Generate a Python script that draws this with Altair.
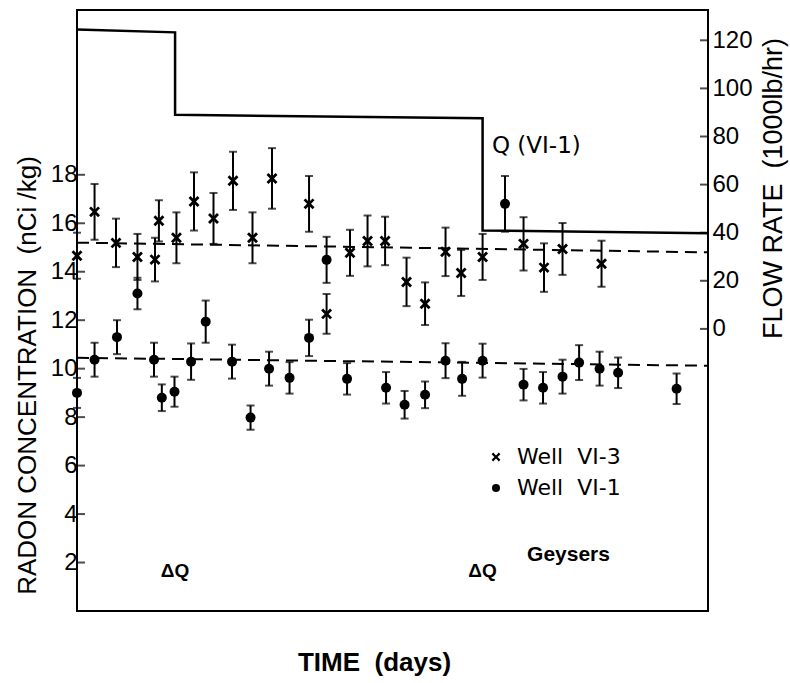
import altair as alt
import pandas as pd

# Well VI-3 radon samples: time (days), concentration (nCi/kg), one-sigma error
vi3_day = [0.0, 0.9, 2.0, 3.1, 4.0, 4.2, 5.1, 6.0, 7.0, 8.0, 9.0, 10.0, 11.9,
           12.8, 14.0, 14.9, 15.8, 16.9, 17.85, 18.9, 19.7, 20.8, 22.9, 23.95,
           24.9, 26.9]
vi3_rn = [14.66, 16.47, 15.19, 14.61, 14.5, 16.1, 15.4, 16.9, 16.2, 17.75,
          15.4, 17.85, 16.8, 12.26, 14.78, 15.27, 15.27, 13.58, 12.68, 14.82,
          13.95, 14.61, 15.15, 14.17, 14.94, 14.33]
vi3_err = [0.95, 1.15, 1.0, 0.95, 0.9, 0.85, 1.05, 1.2, 1.05, 1.2, 1.05, 1.25,
           1.15, 0.82, 0.95, 1.05, 1.0, 1.0, 0.88, 1.0, 0.95, 0.95, 1.1, 1.0,
           1.07, 0.95]

# Well VI-1 radon samples
vi1_day = [0.0, 0.9, 2.05, 3.1, 3.95, 4.35, 5.0, 5.85, 6.6, 7.95, 8.9, 9.85,
           10.9, 11.9, 12.8, 13.85, 15.85, 16.8, 17.85, 18.9, 19.75, 20.8,
           21.95, 22.9, 23.9, 24.9, 25.75, 26.8, 27.75, 30.75]
vi1_rn = [9.0, 10.37, 11.3, 13.1, 10.37, 8.8, 9.05, 10.29, 11.94, 10.29, 7.98,
          10.0, 9.62, 11.27, 14.49, 9.58, 9.21, 8.51, 8.92, 10.33, 9.58, 10.33,
          16.8, 9.34, 9.21, 9.67, 10.25, 10.0, 9.83, 9.17]
vi1_err = [0.62, 0.7, 0.7, 0.65, 0.7, 0.55, 0.62, 0.75, 0.87, 0.7, 0.5, 0.7,
           0.65, 0.75, 0.95, 0.65, 0.65, 0.57, 0.55, 0.72, 0.7, 0.7, 1.15, 0.65,
           0.65, 0.7, 0.72, 0.7, 0.63, 0.63]

# Mean radon level of each well over the record
mean_day = [0.0, 32.36]
vi3_mean = [15.2, 14.8]
vi1_mean = [10.45, 10.12]

# Flow rate of well VI-1 (1000 lb/hr), stepped down twice
flow_day = [0.0, 5.03, 5.03, 20.8, 20.8, 32.36]
flow_q = [124.5, 123.3, 89.0, 87.6, 40.9, 39.8]

left_ticks = [2, 4, 6, 8, 10, 12, 14, 16, 18]
right_ticks = [0, 20, 40, 60, 80, 100, 120]

# Annotations
dq_day = [5.03, 20.8]
dq_rn = [1.67, 1.67]

W, H = 631, 601
FONT = "Liberation Sans"
WIDE = "DejaVu Sans"
# Solid "x" outline so it can be filled like the dot symbol
XPATH = ("M0.7,-1.096L1.096,-0.7L0.396,0L1.096,0.7L0.7,1.096L0,0.396"
         "L-0.7,1.096L-1.096,0.7L-0.396,0L-1.096,-0.7L-0.7,-1.096L0,-0.396Z")

VI3 = "Well\u00a0 VI-3"
VI1 = "Well\u00a0 VI-1"

pts = pd.concat([
    pd.DataFrame({"day": vi3_day, "rn": vi3_rn, "err": vi3_err, "well": VI3}),
    pd.DataFrame({"day": vi1_day, "rn": vi1_rn, "err": vi1_err, "well": VI1}),
], ignore_index=True)
pts["lo"] = pts["rn"] - pts["err"]
pts["hi"] = pts["rn"] + pts["err"]

means = pd.concat([
    pd.DataFrame({"day": mean_day, "rn": vi3_mean, "well": "VI-3"}),
    pd.DataFrame({"day": mean_day, "rn": vi1_mean, "well": "VI-1"}),
], ignore_index=True)

flow = pd.DataFrame({"day": flow_day, "flow": flow_q, "seq": list(range(len(flow_day)))})

x_scale = alt.Scale(domain=[0, 32.36], nice=False, zero=False)
rn_scale = alt.Scale(domain=[0, 24.8], nice=False, zero=False)
q_scale = alt.Scale(domain=[-117.3, 132.6], nice=False, zero=False)

x_axis = alt.Axis(title="TIME\u00a0 (days)", labels=False, ticks=False, domain=False,
                  grid=False, titleFont=FONT, titleFontSize=26, titleFontWeight="bold",
                  titlePadding=38, titleX=297, titleAlign="center")
left_axis = alt.Axis(values=left_ticks, title="RADON CONCENTRATION\u00a0 (nCi /kg)",
                     ticks=False, domain=False, grid=False, labelFont=FONT,
                     labelFontSize=24, labelPadding=0, titleFont=FONT,
                     titleFontSize=26, titleFontWeight="normal", titlePadding=10,
                     titleY=365)
right_axis = alt.Axis(orient="right", values=right_ticks,
                      title="FLOW RATE\u00a0 (1000lb/hr)", ticks=False, domain=False,
                      grid=False, labelFont=FONT, labelFontSize=24, labelPadding=4,
                      titleFont=FONT, titleFontSize=27, titleFontWeight="normal",
                      titleAngle=270, titleBaseline="top", titlePadding=8, titleY=178)

X = alt.X("day:Q", scale=x_scale, axis=x_axis)

# Radon panel ---------------------------------------------------------------
bars = alt.Chart(pts).mark_rule(color="black", strokeWidth=2).encode(
    x=X, y=alt.Y("lo:Q", scale=rn_scale, axis=left_axis), y2="hi:Q")

caps = alt.Chart(pts).transform_fold(["lo", "hi"], as_=["end", "val"]).mark_tick(
    orient="horizontal", color="black", size=8, thickness=2).encode(
    x=X, y=alt.Y("val:Q", scale=rn_scale, axis=left_axis))

marks = alt.Chart(pts).mark_point(filled=True, color="black", strokeWidth=0,
                                  size=100, opacity=1).encode(
    x=X, y=alt.Y("rn:Q", scale=rn_scale, axis=left_axis),
    shape=alt.Shape("well:N",
                    scale=alt.Scale(domain=[VI3, VI1], range=[XPATH, "circle"]),
                    legend=alt.Legend(orient="none", legendX=408, legendY=436,
                                      title=None, padding=0, labelFont=WIDE,
                                      labelFontSize=22, labelColor="black",
                                      labelOffset=10, rowPadding=9,
                                      symbolSize=64, symbolStrokeWidth=0,
                                      symbolFillColor="black")))

mean_lines = alt.Chart(means).mark_line(color="black", strokeWidth=2,
                                        strokeDash=[12, 7]).encode(
    x=X, y=alt.Y("rn:Q", scale=rn_scale, axis=left_axis), detail="well:N")

left_tick_marks = alt.Chart(pd.DataFrame({"v": left_ticks})).mark_tick(
    orient="horizontal", color="black", size=8, thickness=2).encode(
    x=alt.value(4), y=alt.Y("v:Q", scale=rn_scale, axis=left_axis))

dq_text = alt.Chart(pd.DataFrame({"day": dq_day, "rn": dq_rn, "t": ["\u0394Q", "\u0394Q"]})
                    ).mark_text(font=FONT, fontSize=19, fontWeight="bold",
                                align="center", baseline="middle", color="black").encode(
    x=X, y=alt.Y("rn:Q", scale=rn_scale, axis=left_axis), text="t:N")

geysers = alt.Chart(pd.DataFrame({"day": [23.08], "rn": [2.3], "t": ["Geysers"]})
                    ).mark_text(font=FONT, fontSize=21, fontWeight="bold",
                                align="left", baseline="middle", color="black").encode(
    x=X, y=alt.Y("rn:Q", scale=rn_scale, axis=left_axis), text="t:N")

radon = alt.layer(mean_lines, bars, caps, marks, left_tick_marks, dq_text, geysers)

# Flow panel ----------------------------------------------------------------
step = alt.Chart(flow).mark_line(color="black", strokeWidth=2.5, strokeJoin="miter").encode(
    x=X, y=alt.Y("flow:Q", scale=q_scale, axis=right_axis), order="seq:Q")

right_tick_marks = alt.Chart(pd.DataFrame({"v": right_ticks})).mark_tick(
    orient="horizontal", color="black", size=8, thickness=2).encode(
    x=alt.value(W - 4), y=alt.Y("v:Q", scale=q_scale, axis=right_axis))

q_label = alt.Chart(pd.DataFrame({"day": [21.28], "flow": [76.0], "t": ["Q (VI-1)"]})
                    ).mark_text(font=WIDE, fontSize=23, align="left", baseline="middle",
                                color="black").encode(
    x=X, y=alt.Y("flow:Q", scale=q_scale, axis=right_axis), text="t:N")

flow_layer = alt.layer(step, right_tick_marks, q_label)

chart = alt.layer(radon, flow_layer).resolve_scale(y="independent").properties(
    width=W, height=H,
    autosize=alt.AutoSizeParams(type="none"),
    padding={"left": 77, "top": 10, "right": 82, "bottom": 72},
    background="white",
).configure_view(stroke="black", strokeWidth=2).configure_axis(
    labelColor="black", titleColor="black")

chart.save("out.html", embed_options={"renderer": "svg", "actions": False})
